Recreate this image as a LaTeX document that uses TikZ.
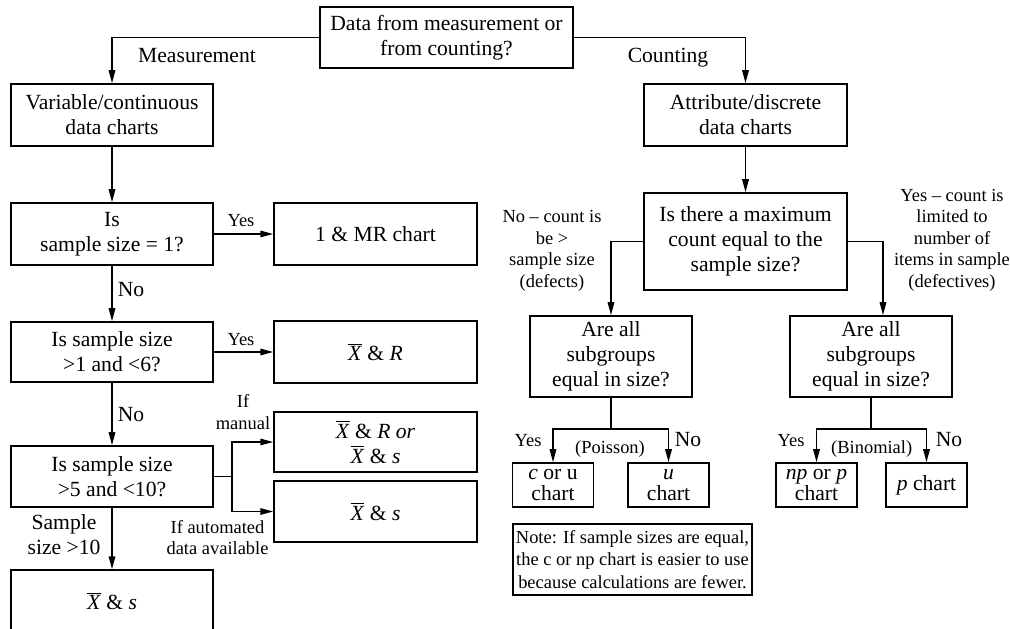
\documentclass[tikz,border=0pt]{standalone}
\usepackage{fontspec}
\setmainfont{Liberation Serif}
\usetikzlibrary{arrows.meta}
\newcommand{\xbar}{$\overline{\mbox{\textit{X}}}$}

\begin{document}
\begin{tikzpicture}[x=0.2mm, y=-0.2mm, line width=0.3mm,
	>={Triangle[length=2.6mm, width=1.3mm]},
	box/.style={draw, rectangle, align=center, inner sep=0pt, font=\fontsize{12.3}{14.2}\selectfont},
	small box/.style={box, font=\fontsize{12.3}{11.6}\selectfont, minimum width=16.2mm, minimum height=8.8mm},
	lbl/.style={align=center, inner sep=0pt, font=\fontsize{10.5}{12.2}\selectfont},
	big/.style={align=center, inner sep=0pt, font=\fontsize{12.3}{14.2}\selectfont}]
	\useasboundingbox (0, 0) rectangle (1010, 629);

	% top question
	\node[box, minimum width=50.6mm, minimum height=12.2mm] (top) at (446.5, 37.5) {Data from measurement or\\from counting?};
	\node[big, anchor=base] (lmeas) at (197, 63) {Measurement};
	\node[big, anchor=base] (lcount) at (668, 63) {Counting};

	% measurement side
	\node[box, minimum width=40.4mm, minimum height=12.4mm] (var) at (112, 115) {Variable/continuous\\data charts};
	\node[box, minimum width=40.4mm, minimum height=12.4mm] (q1) at (112, 234) {Is\\sample size = 1?};
	\node[box, minimum width=40.6mm, minimum height=12.4mm] (imr) at (375.5, 234) {1 \& MR chart};
	\node[box, minimum width=40.4mm, minimum height=12.0mm] (q2) at (112, 352) {Is sample size\\>1 and <6?};
	\node[box, minimum width=40.6mm, minimum height=12.4mm] (xr) at (375.5, 352) {\xbar{} \& \textit{R}};
	\node[box, minimum width=40.4mm, minimum height=12.2mm] (q3) at (112, 476.5) {Is sample size\\>5 and <10?};
	\node[box, minimum width=40.6mm, minimum height=12.0mm] (xrs) at (375.5, 442) {\xbar{} \& \textit{R or}\\\xbar{} \& \textit{s}};
	\node[box, minimum width=40.6mm, minimum height=12.2mm] (xs) at (375.5, 511.5) {\xbar{} \& \textit{s}};
	\node[box, minimum width=40.4mm, minimum height=12.4mm] (xs2) at (112, 601) {\xbar{} \& \textit{s}};

	\node[lbl, anchor=base] (lyes1) at (241, 226.7) {Yes};
	\node[big, anchor=base west] (lno1) at (117, 296.7) {No};
	\node[lbl, anchor=base] (lyes2) at (241, 345.7) {Yes};
	\node[big, anchor=base west] (lno2) at (117, 421.7) {No};
	\node[lbl] (lman) at (243, 412) {If\\manual};
	\node[lbl] (lauto) at (217.5, 537.5) {If automated\\data available};
	\node[big] (lsize) at (64, 535) {Sample\\size >10};

	\draw[->] (top.west) -| (var.north);
	\draw[->] (var) -- (q1);
	\draw[->] (q1) -- (imr);
	\draw[->] (q1) -- (q2);
	\draw[->] (q2) -- (xr);
	\draw[->] (q2) -- (q3);
	\coordinate (fork) at (232, 476.5);
	\draw (q3.east) -- (fork);
	\draw[->] (fork) |- (xrs.west);
	\draw[->] (fork) |- (xs.west);
	\draw[->] (q3) -- (xs2);

	% counting side
	\node[box, minimum width=40.6mm, minimum height=12.4mm] (attr) at (745.5, 115) {Attribute/discrete\\data charts};
	\node[box, minimum width=40.6mm, minimum height=19.4mm] (max) at (745.5, 241.5) {Is there a maximum\\count equal to the\\sample size?};
	\node[box, minimum width=32.4mm, minimum height=16.2mm] (are1) at (611, 356.5) {Are all\\subgroups\\equal in size?};
	\node[box, minimum width=32.4mm, minimum height=16.2mm] (are2) at (871, 356.5) {Are all\\subgroups\\equal in size?};
	\node[lbl] (ldef) at (552, 250.7) {No -- count is\\be >\\sample size\\(defects)};
	\node[lbl] (ldefv) at (952, 240) {Yes -- count is\\limited to\\number of\\items in sample\\(defectives)};

	\node[small box] (cu) at (553, 485) {\textit{c} or u\\chart};
	\node[small box] (uch) at (668.5, 485) {\textit{u}\\chart};
	\node[small box] (npp) at (816.5, 485) {\textit{np} or \textit{p}\\chart};
	\node[small box] (pch) at (926.5, 485) {\textit{p} chart};

	\node[lbl, anchor=base] (lyes3) at (528, 446.7) {Yes};
	\node[lbl, anchor=base] (lpois) at (610, 454) {(Poisson)};
	\node[big, anchor=base] (lno3) at (688, 446.7) {No};
	\node[lbl, anchor=base] (lyes4) at (791, 446.7) {Yes};
	\node[lbl, anchor=base] (lbin) at (871.7, 454) {(Binomial)};
	\node[big, anchor=base] (lno4) at (949, 446.7) {No};

	\node[draw, align=center, inner sep=0pt, font=\fontsize{10.5}{12.8}\selectfont,
		minimum width=47.8mm, minimum height=14.2mm] (note) at (632.5, 559.5)
		{Note: If sample sizes are equal,\\the c or np chart is easier to use\\because calculations are fewer.};

	\draw[->] (top.east) -| (attr.north);
	\draw[->] (attr) -- (max);
	\draw[->] (max.west) -| (are1.north);
	\draw[->] (max.east) -| ([xshift=2.4mm]are2.north);
	\coordinate (pfork) at (611, 429);
	\draw (are1.south) -- (pfork);
	\draw[->] (pfork) -| (cu.north);
	\draw[->] (pfork) -| (uch.north);
	\coordinate (bfork) at (871, 429);
	\draw (are2.south) -- (bfork);
	\draw[->] (bfork) -| (npp.north);
	\draw[->] (bfork) -| (pch.north);
\end{tikzpicture}
\end{document}
